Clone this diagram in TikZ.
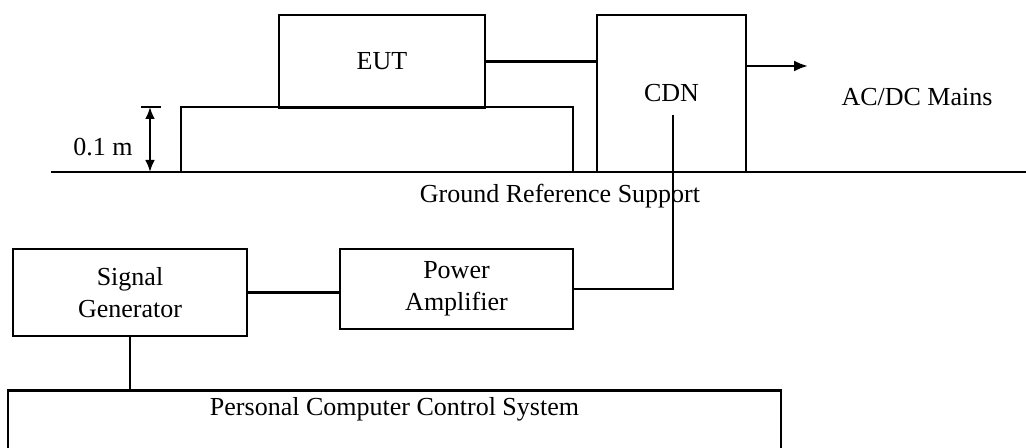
\documentclass[tikz,border=0pt]{standalone}
\usepackage{fontspec}
\setmainfont{Liberation Serif}
\usetikzlibrary{arrows.meta}
\begin{document}
\begin{tikzpicture}[x=0.5pt,y=-0.5pt,line width=1.25pt,
        font=\fontsize{13}{16}\selectfont,
        box/.style={draw,inner sep=0pt,align=center},
        tip/.style={-{Latex[length=7pt,width=5.5pt]}},
        dim/.style={{Latex[length=6pt,width=5pt]}-{Latex[length=6pt,width=5pt]}}]
    \useasboundingbox (0,0) rectangle (1026,448);
    \clip (0,0) rectangle (1026,448);
    \node[box,minimum width=196pt,minimum height=32.5pt] (table) at (377,139.5) {};
    \node[box,minimum width=103pt,minimum height=46.5pt] (eut) at (382,61.5) {EUT};
    \node[box,minimum width=74.5pt,minimum height=78.5pt] (cdn) at (671.5,93.5) {CDN};
    \coordinate (gl) at (51,172);
    \coordinate (gr) at (1026,172);
    \draw (gl) -- (gr);
    \node (ground) at (560,196) {Ground Reference Support};
    \coordinate (dtop) at (150,107);
    \coordinate (dbot) at (150,172);
    \draw ([xshift=-4.5pt]dtop) -- ([xshift=5.5pt]dtop);
    \draw[dim] (dtop) -- (dbot);
    \node (height) at (103,147) {0.1 m};
    \draw (eut.east) -- (eut.east -| cdn.west);
    \coordinate (mains) at (808,66);
    \draw[tip] (cdn.east |- mains) -- (mains);
    \node (acdc) at (917,97) {AC/DC Mains};
    \node[box,minimum width=117pt,minimum height=43.5pt] (sg) at (130,292.5) {Signal\\Generator};
    \node[box,minimum width=116.5pt,minimum height=40pt] (pa) at (456.5,289) {Power\\Amplifier};
    \node[box,anchor=north,minimum width=386.5pt,inner ysep=3.5pt,text depth=35pt] (pc) at (394.5,389) {Personal Computer Control System};
    \coordinate (cdnin) at (673,115);
    \draw (sg.east) -- (sg.east -| pa.west);
    \draw (pa.east) -| (cdnin);
    \draw (sg.south) -- (sg.south |- pc.north);
\end{tikzpicture}
\end{document}
